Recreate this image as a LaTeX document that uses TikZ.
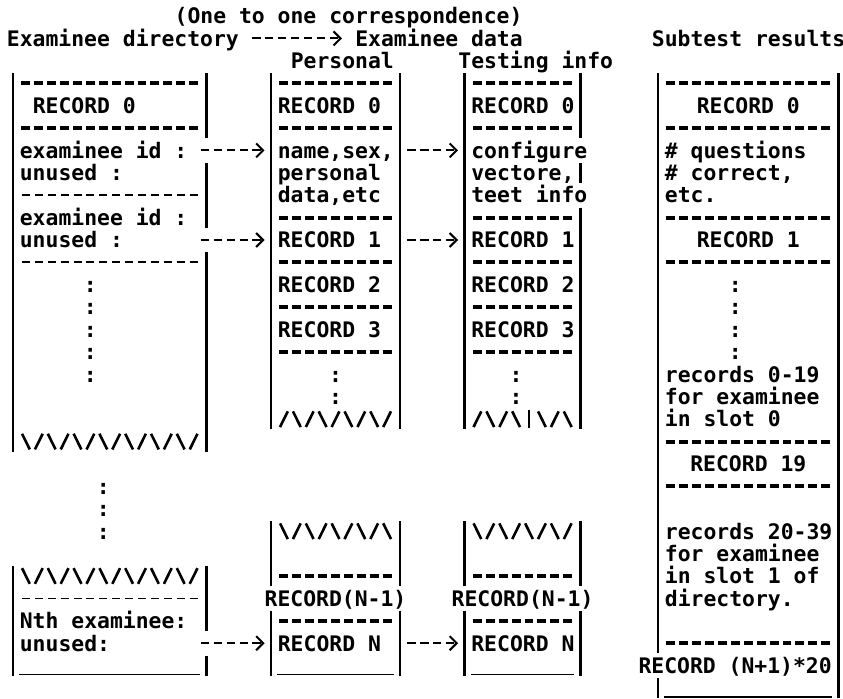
\documentclass[tikz,border=0pt]{standalone}
\usepackage{fontspec}
\setmonofont{DejaVu Sans Mono}
\usepackage{tikz}
\usetikzlibrary{arrows.meta}

\begin{document}
\begin{tikzpicture}[x=6.45pt, y=-11.2pt,
        txt/.style={font=\ttfamily\bfseries\fontsize{10.7}{12}\selectfont, inner sep=0pt, text height=7.8pt, text depth=0pt, anchor=west},
        dirtxt/.style={txt, text width=90.3pt, align=left, execute at begin node={\spaceskip=6.44pt\relax}},
        perstxt/.style={txt, text width=58.05pt, align=left, execute at begin node={\spaceskip=6.44pt\relax}},
        bar/.style={line width=1.4pt},
        hsep/.style={line width=2pt, dash pattern=on 4.45pt off 2pt, dash phase=5.45pt},
        lsep/.style={line width=0.9pt, dash pattern=on 4pt off 2.45pt, dash phase=5.2pt},
        usep/.style={line width=0.9pt},
        zig/.style={line width=1.3pt},
        link/.style={line width=1pt, dash pattern=on 4.2pt off 2.25pt, -{Straight Barb[length=3.5pt, width=7pt]}, shorten >=6.45pt}]
        \useasboundingbox (-1.008,-0.714) rectangle (64.34,30.45);

        \node[txt] (hone) at (12.5,0) {(One to one correspondence)};
        \node[txt] (hdir) at (-0.5,1) {Examinee directory};
        \node[txt] (hdata) at (26.5,1) {Examinee data};
        \node[txt] (hsub) at (49.5,1) {Subtest results};
        \node[txt] (hpers) at (21.5,2) {Personal};
        \node[txt] (htest) at (34.5,2) {Testing info};

        \foreach \c/\a/\b in {0/3/19, 0/25/29, 15/3/5, 15/7/9, 15/11/19, 15/25/27, 15/29/29,
                20/3/18, 20/23/25, 20/27/29, 30/3/18, 30/23/25, 30/27/29,
                35/3/18, 35/23/25, 35/27/29, 44/3/5, 44/7/7, 44/9/18, 44/23/25, 44/27/29,
                50/3/28, 50/30/30, 64/3/30}
            \draw[bar] (\c,\a-0.45) -- (\c,\b+0.45);
        \foreach \l/\r/\y in {0/15/3, 0/15/5, 20/30/3, 20/30/5, 20/30/9, 20/30/11, 20/30/13, 20/30/15, 20/30/25, 20/30/27,
                35/44/3, 35/44/5, 35/44/9, 35/44/11, 35/44/13, 35/44/15, 35/44/25, 35/44/27,
                50/64/3, 50/64/5, 50/64/9, 50/64/11, 50/64/19, 50/64/21, 50/64/28}
            \draw[hsep] (\l+0.5,\y) -- (\r-0.5,\y);
        \foreach \y in {8, 11, 26}
            \draw[lsep] (0.5,\y) -- (14.5,\y);
        \foreach \l/\r/\y in {0/15/29, 20/30/29, 35/44/29, 50/64/30}
            \draw[usep] (\l+0.5,\y+0.4) -- (\r-0.5,\y+0.4);

        \foreach \y in {19, 25} {
            \foreach \c in {1,3,...,13} \draw[zig] (\c-0.3,\y-0.35) -- (\c+0.3,\y+0.35);
            \foreach \c in {2,4,...,14} \draw[zig] (\c-0.3,\y+0.35) -- (\c+0.3,\y-0.35);
        }
        \foreach \c in {22,24,26,28,37,39,41,43} \draw[zig] (\c-0.3,17.65) -- (\c+0.3,18.35);
        \foreach \c in {21,23,25,27,29,36,38,42} \draw[zig] (\c-0.3,18.35) -- (\c+0.3,17.65);
        \draw[zig] (40,17.6) -- (40,18.4);
        \foreach \c in {21,23,25,27,29,36,38,40,42} \draw[zig] (\c-0.3,22.65) -- (\c+0.3,23.35);
        \foreach \c in {22,24,26,28,37,39,41,43} \draw[zig] (\c-0.3,23.35) -- (\c+0.3,22.65);

        \foreach \c/\y in {6/12, 6/13, 6/14, 6/15, 6/16, 7/21, 7/22, 7/23, 25/16, 25/17, 39/16, 39/17, 56/12, 56/13, 56/14, 56/15}
            \node[txt, anchor=center] (dot-\c-\y) at (\c,\y) {:};

        \node[txt] (dirrec) at (1.5,4) {RECORD 0};
        \node[dirtxt] (dirid0) at (0.5,6) {examinee id :};
        \node[txt] (dirun0) at (0.5,7) {unused :};
        \node[txt] (dirid1) at (0.5,9) {examinee id :};
        \node[dirtxt] (dirun1) at (0.5,10) {unused :};
        \node[txt] (diridn) at (0.5,27) {Nth examinee:};
        \node[dirtxt] (dirunn) at (0.5,28) {unused:};

        \node[perstxt] (pers0) at (20.5,4) {RECORD 0};
        \node[perstxt] (persname) at (20.5,6) {name,sex,};
        \node[perstxt] (perspd) at (20.5,7) {personal};
        \node[perstxt] (persdata) at (20.5,8) {data,etc};
        \node[perstxt] (pers1) at (20.5,10) {RECORD 1};
        \node[perstxt] (pers2) at (20.5,12) {RECORD 2};
        \node[perstxt] (pers3) at (20.5,14) {RECORD 3};
        \node[txt, anchor=center] (persn1) at (25,26) {RECORD(N-1)};
        \node[perstxt] (persn) at (20.5,28) {RECORD N};

        \node[txt] (test0) at (35.5,4) {RECORD 0};
        \node[txt] (testconf) at (35.5,6) {configure};
        \node[txt] (testvec) at (35.5,7) {vectore,};
        \node[txt] (testinfo) at (35.5,8) {teet info};
        \node[txt] (test1) at (35.5,10) {RECORD 1};
        \node[txt] (test2) at (35.5,12) {RECORD 2};
        \node[txt] (test3) at (35.5,14) {RECORD 3};
        \node[txt, anchor=center] (testn1) at (39.5,26) {RECORD(N-1)};
        \node[txt] (testn) at (35.5,28) {RECORD N};

        \node[txt, anchor=center] (sub0) at (57,4) {RECORD 0};
        \node[txt] (subq) at (50.5,6) {\# questions};
        \node[txt] (subc) at (50.5,7) {\# correct,};
        \node[txt] (subetc) at (50.5,8) {etc.};
        \node[txt, anchor=center] (sub1) at (57,10) {RECORD 1};
        \node[txt] (subr0) at (50.5,16) {records 0-19};
        \node[txt] (subf0) at (50.5,17) {for examinee};
        \node[txt] (subs0) at (50.5,18) {in slot 0};
        \node[txt, anchor=center] (sub19) at (57,20) {RECORD 19};
        \node[txt] (subr1) at (50.5,23) {records 20-39};
        \node[txt] (subf1) at (50.5,24) {for examinee};
        \node[txt] (subs1) at (50.5,25) {in slot 1 of};
        \node[txt] (subdir) at (50.5,26) {directory.};
        \node[txt, anchor=east] (subn) at (63.5,29) {RECORD (N+1)*20};

        \draw[link, shorten <=6.45pt] (hdir) -- (hdata);
        \draw[link] (dirid0) -- (persname);
        \draw[link, shorten <=6.45pt] (persname) -- (testconf);
        \draw[link] (dirun1) -- (pers1);
        \draw[link, shorten <=6.45pt] (pers1) -- (test1);
        \draw[link] (dirunn) -- (persn);
        \draw[link, shorten <=6.45pt] (persn) -- (testn);
    \end{tikzpicture}
\end{document}
